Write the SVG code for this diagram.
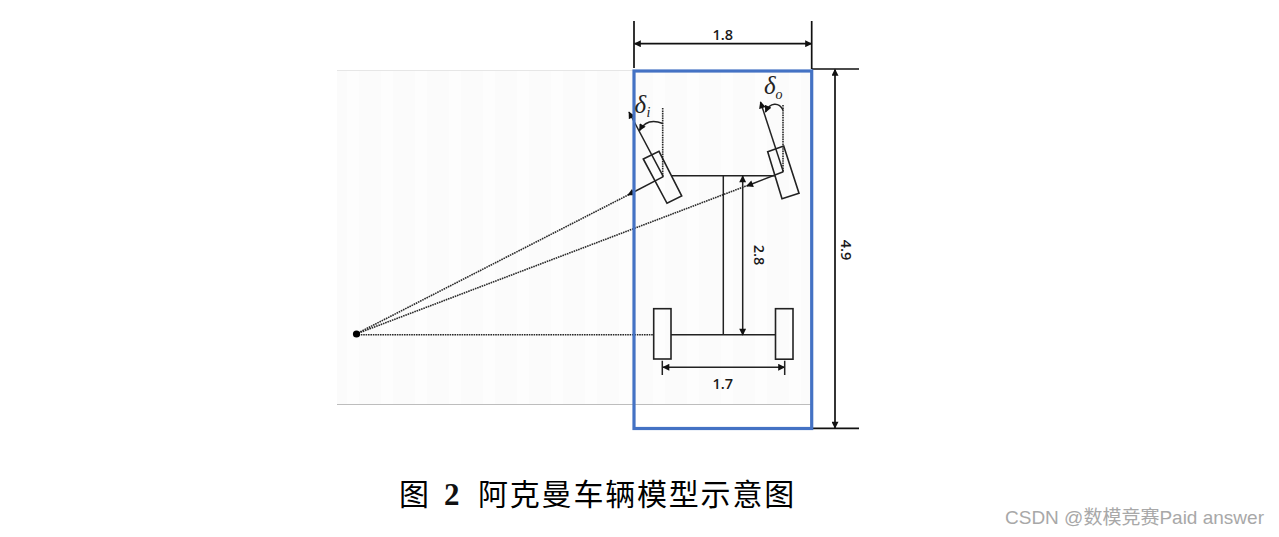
<svg xmlns="http://www.w3.org/2000/svg" width="1279" height="537" viewBox="0 0 1279 537">
<style>
.dim{stroke:#111;stroke-width:1.7;fill:none}
.thin{stroke:#222;stroke-width:1.5;fill:none}
.dot{stroke:#2a2a2a;stroke-width:1.6;stroke-dasharray:1.6 .8;fill:none}
.wheel{stroke:#222;stroke-width:1.6;fill:none}
.lab{font-family:"Open Sans",sans-serif;font-size:14.5px;font-weight:600;fill:#1a1a1a;text-anchor:middle}
.sym{font-family:"Liberation Serif",serif;font-style:italic;fill:#222}
.cap{font-family:"Noto Sans CJK SC",sans-serif;font-size:30px;font-weight:400;fill:#000}
</style>
<defs>
<marker id="ah" viewBox="0 0 10 10" refX="9" refY="5" markerWidth="8" markerHeight="7" markerUnits="userSpaceOnUse" orient="auto-start-reverse"><path d="M0 0L10 5L0 10Z" fill="#111"/></marker>
<pattern id="stripes" width="34" height="10" patternUnits="userSpaceOnUse" x="337" y="71"><rect width="34" height="10" fill="#fbfbfb"/><rect x="10" width="12" height="10" fill="#fdfdfd"/></pattern>
</defs>
<rect width="1279" height="537" fill="#fff"/>
<g id="background">
<rect x="337" y="71" width="474" height="333" fill="url(#stripes)"/>
<path d="M337 70.5H634" stroke="#e6e6e6" stroke-width="1"/>
<path d="M337 404.5H811" stroke="#bdbdbd" stroke-width="1"/>
</g>
<g id="connectors">
<path class="dot" d="M356 334L630 194"/>
<path class="dot" d="M356 334L746 186"/>
<path class="dot" d="M356 334.7H654"/>
<path class="dot" d="M662.7 108V176.7"/>
<path class="dot" d="M783 105V171.7"/>
<path class="thin" d="M663.3 176.7L628 195" marker-end="url(#ah)"/>
<path class="thin" d="M783.3 171.7L746.7 186" marker-end="url(#ah)"/>
<path class="thin" d="M663.3 176.7L629 112" marker-end="url(#ah)"/>
<path class="thin" d="M783.3 171.7L760.5 102" marker-end="url(#ah)"/>
<path class="thin" d="M662.7 123.5C654 120 645 121 639.5 130.5" marker-end="url(#ah)"/>
<path class="thin" d="M783 110C779 102 770 102 765.5 112" marker-end="url(#ah)"/>
<path class="thin" d="M671.7 175.7H775"/>
<path class="thin" d="M723.3 175.7V335"/>
<path class="thin" d="M671 334.7H775.3"/>
<path class="thin" d="M742.7 176V335" marker-start="url(#ah)" marker-end="url(#ah)"/>
<path class="thin" d="M663 367.3H784.5" marker-start="url(#ah)" marker-end="url(#ah)"/>
<path class="thin" d="M662.3 360.7V375M784.7 360.7V375"/>
<path class="dim" d="M634.5 43.7H811.5" marker-start="url(#ah)" marker-end="url(#ah)"/>
<path class="dim" d="M634 21V68M811.7 21V69"/>
<path class="dim" d="M812 69H859M812 428.3H859"/>
<path class="dim" d="M835 69.5V428" marker-start="url(#ah)" marker-end="url(#ah)"/>
</g>
<g id="car-frame"><rect x="634" y="71" width="177.7" height="357.5" fill="none" stroke="#4472c4" stroke-width="3.2"/></g>
<g id="wheel-front-left"><polygon class="wheel" points="643.3,159 659,151.3 681.7,196 667,203.3"/></g>
<g id="wheel-front-right"><polygon class="wheel" points="767.7,151.7 783.7,146 799,193.3 782,198.7"/></g>
<g id="wheel-rear-left"><rect class="wheel" x="653.7" y="308.7" width="17.3" height="50.3"/></g>
<g id="wheel-rear-right"><rect class="wheel" x="775.5" y="308.7" width="17.5" height="50.5"/></g>
<g id="center-point"><circle cx="356.5" cy="334" r="3.6" fill="#000"/></g>
<g id="delta-i"><text class="sym" x="634.5" y="113" font-size="25">δ</text><text class="sym" x="646.5" y="116.5" font-size="14">i</text></g>
<g id="delta-o"><text class="sym" x="764" y="94" font-size="25">δ</text><text class="sym" x="775.5" y="98.5" font-size="14">o</text></g>
<g id="labels">
<text class="lab" x="722.7" y="39.5">1.8</text>
<text class="lab" x="722.7" y="389">1.7</text>
<text class="lab" transform="translate(753.5 255) rotate(90)">2.8</text>
<text class="lab" transform="translate(840.5 250) rotate(90)">4.9</text>
</g>
<g id="caption">
<text class="cap" x="399" y="505">图</text>
<text x="444" y="505" font-family="Liberation Serif,serif" font-weight="700" font-size="31" fill="#111">2</text>
<text class="cap" x="478" y="505" letter-spacing="1.8">阿克曼车辆模型示意图</text>
</g>
<text id="watermark" x="1005" y="523.5" font-family="Liberation Sans,Noto Sans CJK SC,sans-serif" font-size="19" fill="#a8a8a8">CSDN @数模竞赛Paid answer</text>
</svg>
